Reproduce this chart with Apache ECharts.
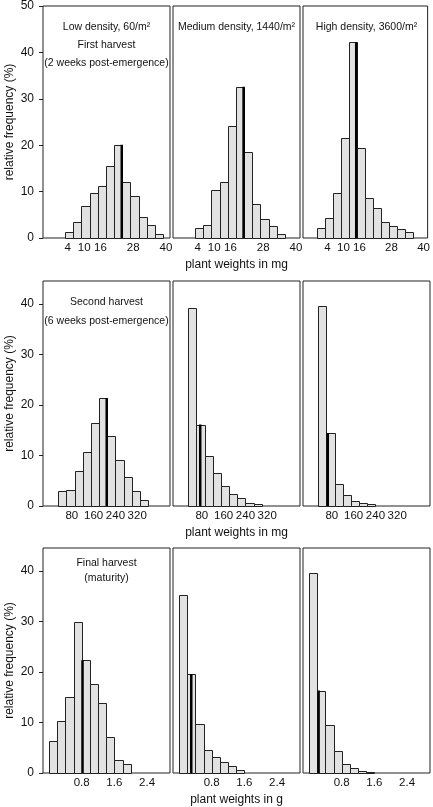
<!DOCTYPE html>
<html>
<head>
<meta charset="utf-8">
<script src="https://cdn.jsdelivr.net/npm/echarts@6/dist/echarts.min.js"></script>
<style>
  html, body { margin: 0; padding: 0; background: #fff; }
  #chart { width: 433px; height: 807px; }
</style>
</head>
<body>
<div id="chart"></div>
<script>
// ---------- data ----------
const densityLabels = ['Low density, 60/m²', 'Medium density, 1440/m²', 'High density, 3600/m²'];
const harvestLabels = [
  ['First harvest', '(2 weeks post-emergence)'],
  ['Second harvest', '(6 weeks post-emergence)'],
  ['Final harvest', '(maturity)']
];
const xAxisTitles = ['plant weights in mg', 'plant weights in mg', 'plant weights in g'];
const yAxisTitle = 'relative frequency (%)';

// First harvest: weights in mg, bins 3 mg wide
const harvest1BinWidth = 3;
const harvest1BinStart = [3, 3, 0];            // low, medium, high density
const harvest1Low    = [1.2, 3.5, 6.8, 9.6, 11.1, 15.6, 20.1, 12.0, 9.1, 4.5, 2.8, 0.9];
const harvest1Medium = [2.15, 2.9, 10.3, 12.1, 24.2, 32.6, 18.6, 7.3, 4.1, 2.5, 0.9];
const harvest1High   = [2.15, 4.3, 9.8, 21.5, 42.2, 19.3, 8.7, 6.5, 3.4, 2.5, 1.9, 1.2];
const harvest1Marker = [23.8, 20.8, 14.8];     // thick black line (mg)
const harvest1Ticks  = [4, 10, 16, 28, 40];

// Second harvest: weights in mg, bins 30 mg wide
const harvest2BinWidth = 30;
const harvest2BinStart = [30, 30, 30];
const harvest2Low    = [3.0, 3.2, 6.9, 10.6, 16.5, 21.3, 13.8, 9.1, 5.8, 2.9, 1.1];
const harvest2Medium = [39.1, 16.1, 9.8, 6.5, 4.0, 2.45, 1.5, 0.66, 0.33];
const harvest2High   = [39.5, 14.4, 4.4, 2.2, 1.06, 0.66, 0.4];
const harvest2Marker = [208, 74, 65];
const harvest2Ticks  = [80, 160, 240, 320];

// Final harvest: weights in g, bins 0.2 g wide
const harvest3BinWidth = 0.2;
const harvest3BinStart = [0, 0, 0];
const harvest3Low    = [6.3, 10.2, 15.0, 29.8, 22.3, 17.6, 13.8, 7.2, 2.6, 1.8];
const harvest3Medium = [35.2, 19.6, 9.75, 4.6, 3.2, 2.2, 1.4, 0.66];
const harvest3High   = [39.5, 16.3, 9.4, 4.4, 1.7, 1.0, 0.46, 0.2];
const harvest3Marker = [0.82, 0.30, 0.235];
const harvest3Ticks  = [0.8, 1.6, 2.4];

const yTicksTop = [0, 10, 20, 30, 40, 50];
const yTicksLower = [0, 10, 20, 30, 40];

// ---------- layout ----------
const FONT = '"Liberation Sans", Arial, Helvetica, sans-serif';
const TXT = '#111';
const panelLeft = [43, 173, 303];
const panelWidth = 127;
const rowTop = [6, 281, 548];
const rowHeight = [232, 225, 225];
const rowYMax = [50, 44.5, 44.5];
const rowXRange = [[-5.1, 41.5], [-26, 440.4], [-0.147, 2.962]];

const rows = [
  { width: harvest1BinWidth, start: harvest1BinStart, freq: [harvest1Low, harvest1Medium, harvest1High], marker: harvest1Marker, ticks: harvest1Ticks, yTicks: yTicksTop },
  { width: harvest2BinWidth, start: harvest2BinStart, freq: [harvest2Low, harvest2Medium, harvest2High], marker: harvest2Marker, ticks: harvest2Ticks, yTicks: yTicksLower },
  { width: harvest3BinWidth, start: harvest3BinStart, freq: [harvest3Low, harvest3Medium, harvest3High], marker: harvest3Marker, ticks: harvest3Ticks, yTicks: yTicksLower }
];

const grids = [], xAxes = [], yAxes = [], series = [];

function renderBar(params, api) {
  const p0 = api.coord([api.value(0), api.value(2)]);
  const p1 = api.coord([api.value(1), 0]);
  const x0 = Math.round(p0[0]) + 0.5, x1 = Math.round(p1[0]) + 0.5;
  const y0 = Math.round(p0[1]) + 0.5, y1 = Math.round(p1[1]) + 0.5;
  return {
    type: 'rect',
    shape: { x: x0, y: y0, width: x1 - x0, height: y1 - y0 },
    style: { fill: '#e2e2e2', stroke: '#222', lineWidth: 1 }
  };
}

rows.forEach((row, r) => {
  for (let c = 0; c < 3; c++) {
    const idx = r * 3 + c;
    grids.push({
      left: panelLeft[c], top: rowTop[r], width: panelWidth, height: rowHeight[r],
      show: true, borderColor: '#222', borderWidth: 1, backgroundColor: 'transparent'
    });
    xAxes.push({
      gridIndex: idx, type: 'value',
      min: rowXRange[r][0], max: rowXRange[r][1],
      axisLine: { show: false, onZero: false }, axisTick: { show: false }, splitLine: { show: false },
      axisLabel: { customValues: row.ticks, margin: 4, color: TXT, fontSize: 11.5, fontFamily: FONT },
      name: c === 1 ? xAxisTitles[r] : '',
      nameLocation: 'middle', nameGap: 21,
      nameTextStyle: { color: TXT, fontSize: 12, fontFamily: FONT }
    });
    yAxes.push({
      gridIndex: idx, type: 'value', min: 0, max: rowYMax[r],
      show: c === 0,
      axisLine: { show: false, onZero: false },
      axisTick: { show: true, length: 4, customValues: row.yTicks, lineStyle: { color: '#222', width: 1 } },
      axisLabel: { customValues: row.yTicks, margin: 9, color: TXT, fontSize: 12, fontFamily: FONT },
      splitLine: { show: false },
      name: c === 0 ? yAxisTitle : '',
      nameLocation: 'middle', nameGap: 27, nameRotate: 90,
      nameTextStyle: { color: TXT, fontSize: 12, fontFamily: FONT }
    });
    const freq = row.freq[c];
    const start = row.start[c];
    const data = freq.map((v, k) => [start + k * row.width, start + (k + 1) * row.width, v]);
    series.push({
      type: 'custom', xAxisIndex: idx, yAxisIndex: idx,
      renderItem: renderBar, data: data,
      encode: { x: [0, 1], y: 2 }, silent: true, z: 2
    });
    // thick black line: height of the bin that contains the marker
    const m = row.marker[c];
    const bin = Math.min(freq.length - 1, Math.max(0, Math.floor((m - start) / row.width)));
    series.push({
      type: 'line', xAxisIndex: idx, yAxisIndex: idx,
      data: [[m, 0], [m, freq[bin]]], symbol: 'none', silent: true, z: 3,
      lineStyle: { color: '#000', width: 2.5 }
    });
  }
});

// panel annotations
const cx = c => panelLeft[c] + panelWidth / 2;
const graphics = [];
function addText(x, y, text) {
  graphics.push({
    type: 'text', x: x, y: y, silent: true,
    style: { text: text, fill: TXT, font: '10.5px ' + FONT, textAlign: 'center', textVerticalAlign: 'middle' }
  });
}
addText(cx(0), 27, densityLabels[0]);
addText(cx(1), 27, densityLabels[1]);
addText(cx(2), 27, densityLabels[2]);
addText(cx(0), 45, harvestLabels[0][0]);
addText(cx(0), 63, harvestLabels[0][1]);
addText(cx(0), 302, harvestLabels[1][0]);
addText(cx(0), 321, harvestLabels[1][1]);
addText(cx(0), 563, harvestLabels[2][0]);
addText(cx(0), 578, harvestLabels[2][1]);

const chart = echarts.init(document.getElementById('chart'), null, { renderer: 'canvas' });
chart.setOption({
  animation: false,
  backgroundColor: '#fff',
  grid: grids, xAxis: xAxes, yAxis: yAxes, series: series,
  graphic: graphics
});
</script>
</body>
</html>
